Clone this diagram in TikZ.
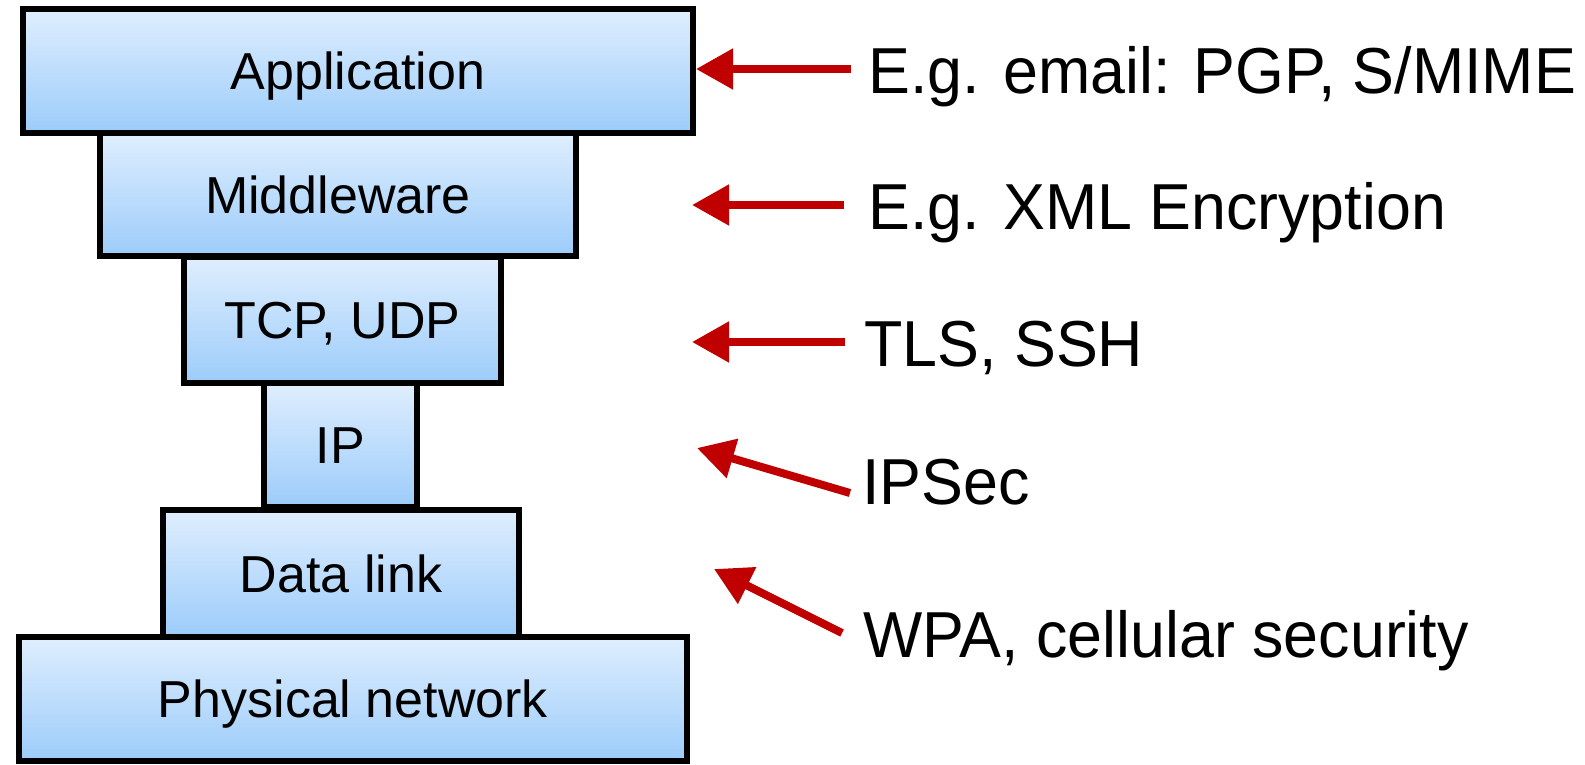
\documentclass[tikz,border=0pt]{standalone}
\usepackage{fontspec}
\setmainfont{Liberation Sans}
\newfontfamily\labfont[FakeStretch=0.965]{Liberation Sans}
\usetikzlibrary{arrows.meta,shadows}
\definecolor{boxtop}{RGB}{223,238,254}
\definecolor{boxbot}{RGB}{156,204,250}
\definecolor{arrred}{RGB}{192,0,0}
\begin{document}
\begin{tikzpicture}[x=0.5pt,y=-0.5pt,
  layer/.style={draw=black, line width=3pt, top color=boxtop, bottom color=boxbot,
    inner sep=0pt, font=\fontsize{26pt}{30pt}\selectfont,
    text height=18.6pt, text depth=0pt,
    drop shadow={shadow xshift=1.5pt, shadow yshift=-1.5pt, opacity=0.2, fill=black}},
  lab/.style={anchor=base west, inner sep=0pt, font=\labfont\fontsize{32.5pt}{38pt}\selectfont},
  sec/.style={draw=arrred, line width=4pt, -{Triangle[length=18.5pt,width=19.5pt]}}]
\fill[white] (0,0) rectangle (1585,765);
\useasboundingbox (0,0) rectangle (1585,765);

% layers (drawn bottom to top)
\node[layer, minimum width=334pt, minimum height=62pt]   (phys) at (353,699)   {Physical network};
\node[layer, minimum width=178pt, minimum height=63.5pt] (dl)   at (341,573.5) {Data link};
\node[layer, minimum width=76.5pt, minimum height=62pt]  (ip)   at (340.5,445) {IP};
\node[layer, minimum width=158.5pt, minimum height=63pt] (tcp)  at (342.5,320) {TCP, UDP};
\node[layer, minimum width=238pt, minimum height=61.5pt] (mid)  at (338,194.5) {Middleware};
\node[layer, minimum width=335pt, minimum height=62pt]   (app)  at (358,71)    {Application};

% labels
\node[lab] (l1) at (868,94)  {E.g. email: PGP, S/MIME};
\node[lab] (l2) at (868,229) {E.g. XML Encryption};
\node[lab] (l3) at (864,366) {TLS, SSH};
\node[lab] (l4) at (862,504) {IPSec};
\node[lab] (l5) at (863,657) {WPA, cellular security};

% arrow ends
\coordinate (t1) at (851,69);
\coordinate (t2) at (844,205);
\coordinate (h2) at (692,205);
\coordinate (t3) at (845,342);
\coordinate (h3) at (692,342);
\coordinate (t4) at (850,493);
\coordinate (h4) at (697,448);
\coordinate (t5) at (842,633);
\coordinate (h5) at (714,569);

\draw[sec] (t1) -- (t1 -| app.east);
\draw[sec] (t2) -- (h2);
\draw[sec] (t3) -- (h3);
\draw[sec] (t4) -- (h4);
\draw[sec] (t5) -- (h5);
\end{tikzpicture}
\end{document}
